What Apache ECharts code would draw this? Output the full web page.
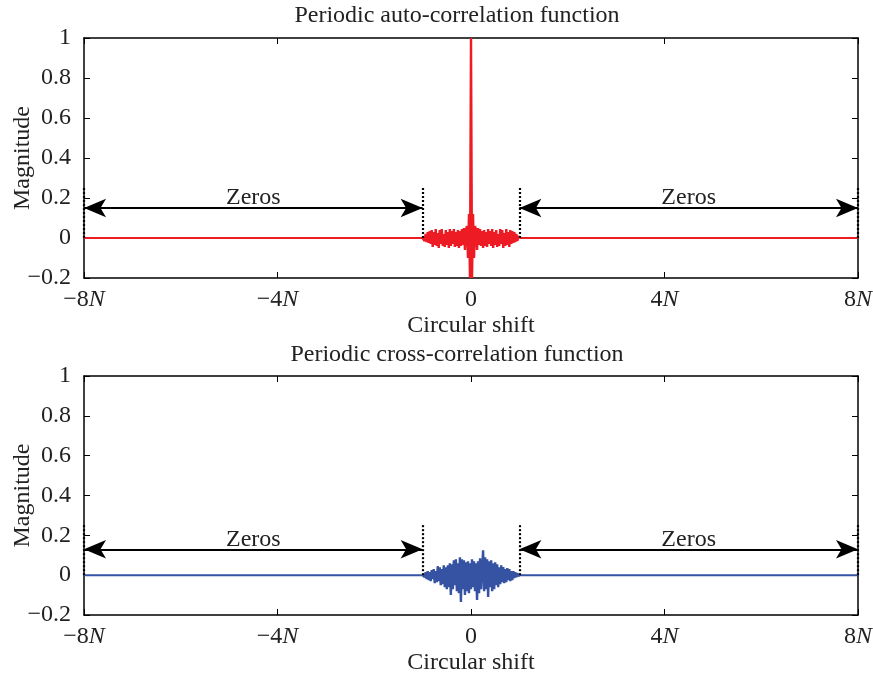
<!DOCTYPE html>
<html><head><meta charset="utf-8">
<script src="https://cdn.jsdelivr.net/npm/echarts@6/dist/echarts.min.js"></script>
<style>html,body{margin:0;padding:0;background:#fff}#c{width:873px;height:673px}</style>
</head><body><div id="c"></div>
<script>
// Shift axis in samples, N = 48 samples
var N = 48;
var xTicks = [-8, -4, 0, 4, 8];           // in units of N
var yTicks = [-0.2, 0, 0.2, 0.4, 0.6, 0.8, 1];
var titles = ['Periodic auto-correlation function', 'Periodic cross-correlation function'];
var xName = 'Circular shift';
var yName = 'Magnitude';

// periodic auto-correlation, shifts -N..N (outside this range all zeros)
var autoCorr = [
 0.0, 0.01, -0.015, 0.02, -0.02, 0.03, -0.025, 0.035, -0.03, 0.04,
 -0.045, 0.03, -0.035, 0.045, -0.04, 0.025, -0.05, 0.04, -0.03, 0.045,
 -0.04, 0.02, -0.045, 0.04, -0.035, 0.03, -0.05, 0.045, -0.04, 0.035,
 -0.03, 0.045, -0.045, 0.03, -0.04, 0.04, -0.05, 0.035, -0.04, 0.045,
 -0.035, 0.05, -0.06, 0.04, 0.06, -0.1, 0.12, -0.2,
 1.0,
 -0.2, 0.12, -0.1, 0.06, 0.04, -0.06, 0.05, -0.035, 0.045, -0.04,
 0.035, -0.05, 0.04, -0.04, 0.03, -0.045, 0.045, -0.03, 0.035, -0.04,
 0.045, -0.05, 0.03, -0.035, 0.04, -0.045, 0.02, -0.04, 0.045, -0.03,
 0.04, -0.05, 0.025, -0.04, 0.045, -0.035, 0.03, -0.045, 0.04, -0.03,
 0.035, -0.025, 0.03, -0.02, 0.02, -0.015, 0.01, 0.0
];
// periodic cross-correlation, shifts -N..N
var crossCorr = [
 0.0, 0.01, -0.01, 0.015, -0.02, 0.02, -0.025, 0.015, -0.03, 0.025,
 -0.02, 0.03, -0.04, 0.02, -0.035, 0.045, -0.03, 0.04, -0.05, 0.03,
 -0.045, 0.05, -0.06, 0.04, -0.07, 0.05, -0.06, 0.06, -0.1, 0.055,
 -0.07, 0.075, -0.05, 0.08, -0.08, 0.06, -0.09, 0.09, -0.135, 0.08,
 -0.07, 0.075, -0.1, 0.065, -0.08, 0.07, -0.09, 0.06,
 -0.07,
 0.08, -0.06, 0.07, -0.08, 0.06, -0.125, 0.07, -0.09, 0.085, -0.07,
 -0.06, 0.125, -0.08, 0.09, -0.07, 0.08, -0.11, 0.07, -0.06, 0.075,
 -0.08, 0.06, -0.07, 0.065, -0.05, 0.055, -0.06, 0.04, -0.045, 0.05,
 -0.035, 0.04, -0.04, 0.03, -0.035, 0.035, -0.025, 0.03, -0.03, 0.02,
 -0.025, 0.02, -0.015, 0.015, -0.01, 0.01, -0.005, 0.0
];
// annotations (units of N / magnitude)
var zeroSpans = [[-8, -1], [1, 8]];
var dottedAt = [-8, -1, 1, 8];
var arrowY = [0.15, 0.13];
var dottedTop = [0.26, 0.26];
var zeroLabel = 'Zeros';
var colors = ['#ED1C24', '#3552A3'];

function buildSegments(vals) {
  var mid = [];
  for (var i = 0; i < vals.length; i++) mid.push([i - N, vals[i]]);
  return [
    [[-8 * N, 0], [-N, 0]],
    mid,
    [[N, 0], [8 * N, 0]]
  ];
}
function buildMarks(g) {
  var out = [];
  zeroSpans.forEach(function (s) {
    out.push([{coord: [s[0] * N, arrowY[g]], symbol: 'arrow'},
              {coord: [s[1] * N, arrowY[g]], symbol: 'arrow'}]);
  });
  dottedAt.forEach(function (x) {
    out.push([{coord: [x * N, 0], symbol: 'none',
               lineStyle: {type: [2, 2], width: 2.2}, label: {show: false}},
              {coord: [x * N, dottedTop[g]], symbol: 'none'}]);
  });
  return out;
}
var FONT = 'Liberation Serif';
var FS = 24;
var TXT = '#222';
function fmtX(v) {
  var n = Math.round(v / N);
  if (n === 0) return '0';
  return (n < 0 ? '\u2212' + (-n) : '' + n) + '{i|N}';
}
function fmtY(v) {
  var s = (Math.round(v * 10) / 10).toString();
  return s.replace('-', '\u2212');
}
var grids = [
  {left: 84, right: 15, top: 38, height: 240, containLabel: false, outerBoundsMode: 'none'},
  {left: 84, right: 15, top: 376, height: 239, containLabel: false, outerBoundsMode: 'none'}
];
var titleTops = [4, 343];
var xAxes = [], yAxes = [], series = [], titleOpts = [];
[0, 1].forEach(function (g) {
  var axLine = {show: true, onZero: false, lineStyle: {color: '#000', width: 1.5}};
  var tick = {inside: true, length: 6, lineStyle: {color: '#000', width: 1}};
  titleOpts.push({
    text: titles[g], left: 457, top: titleTops[g], textAlign: 'center', padding: 0,
    textStyle: {fontFamily: FONT, fontSize: FS, fontWeight: 'normal', color: TXT}
  });
  xAxes.push({
    type: 'value', gridIndex: g, position: 'bottom', min: -8 * N, max: 8 * N, interval: 4 * N,
    axisLine: axLine, axisTick: tick, splitLine: {show: false},
    axisLabel: {formatter: fmtX, color: TXT, fontFamily: FONT, fontSize: FS, margin: 10,
      rich: {i: {fontStyle: 'italic', fontFamily: FONT, fontSize: FS, color: TXT}}},
    name: xName, nameLocation: 'middle', nameGap: 36, nameMoveOverlap: false,
    nameTextStyle: {fontFamily: FONT, fontSize: FS, color: TXT}
  });
  xAxes.push({
    type: 'value', gridIndex: g, position: 'top', min: -8 * N, max: 8 * N, interval: 4 * N,
    axisLine: axLine, axisTick: tick, splitLine: {show: false}, axisLabel: {show: false}
  });
  yAxes.push({
    type: 'value', gridIndex: g, position: 'left', min: -0.2, max: 1, interval: 0.2,
    axisLine: axLine, axisTick: tick, splitLine: {show: false},
    axisLabel: {formatter: fmtY, color: TXT, fontFamily: FONT, fontSize: FS, margin: 13},
    name: yName, nameLocation: 'middle', nameGap: 49, nameMoveOverlap: false,
    nameTextStyle: {fontFamily: FONT, fontSize: FS, color: TXT}
  });
  yAxes.push({
    type: 'value', gridIndex: g, position: 'right', min: -0.2, max: 1, interval: 0.2,
    axisLine: axLine, axisTick: tick, splitLine: {show: false}, axisLabel: {show: false}
  });
  var segs = buildSegments(g === 0 ? autoCorr : crossCorr);
  segs.forEach(function (seg, k) {
    var s = {
      type: 'line', xAxisIndex: g * 2, yAxisIndex: g * 2,
      data: seg, showSymbol: false, symbol: 'none', clip: true, z: 3,
      lineStyle: {color: colors[g], width: k === 1 ? 2.4 : 2}, itemStyle: {color: colors[g]}
    };
    if (k === 0) {
      s.markLine = {
        silent: true, animation: false,
        symbol: ['arrow', 'arrow'], symbolSize: [14, 22],
        lineStyle: {color: '#000', width: 2, type: 'solid'},
        label: {show: true, position: 'middle', formatter: zeroLabel, distance: -2,
                fontFamily: FONT, fontSize: FS, color: TXT},
        emphasis: {disabled: true},
        data: buildMarks(g)
      };
    }
    series.push(s);
  });
});
var chart = echarts.init(document.getElementById('c'));
chart.setOption({
  animation: false, title: titleOpts,
  grid: grids, xAxis: xAxes, yAxis: yAxes, series: series
});
</script></body></html>
